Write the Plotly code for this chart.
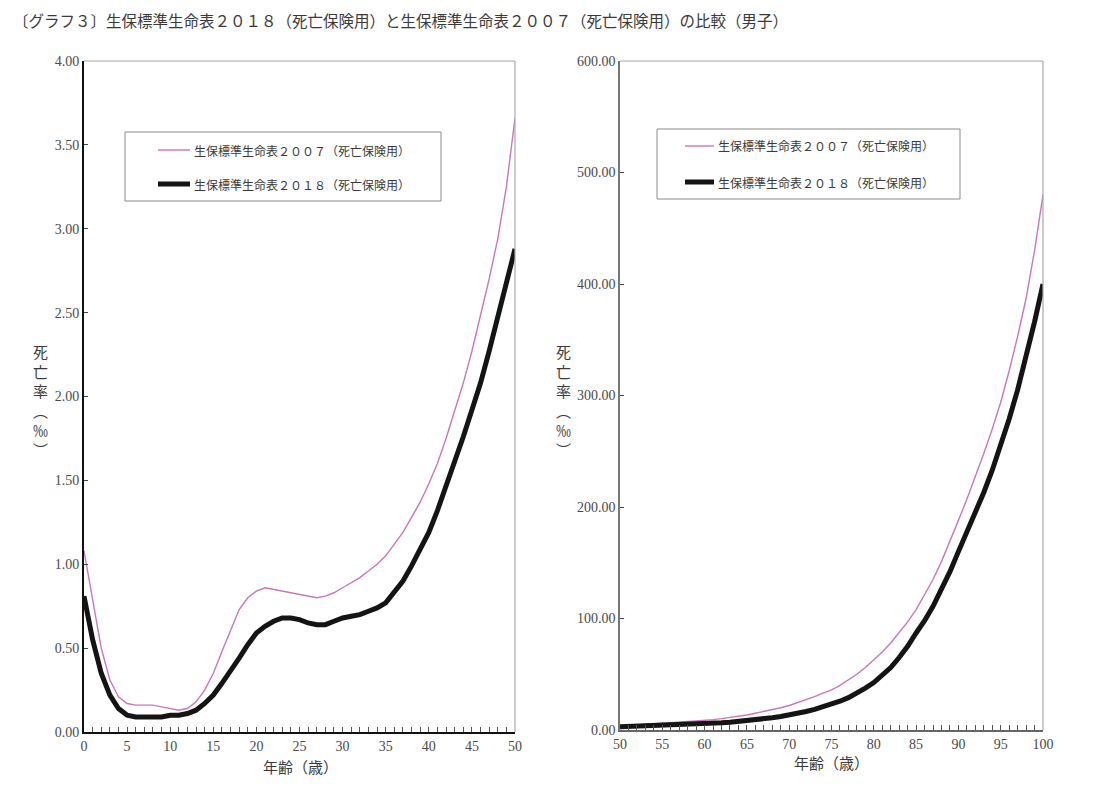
"""生保標準生命表 2018 と 2007 (死亡保険用・男子) の死亡率比較グラフ."""

import plotly.graph_objects as go

# ページの body 余白 (8px) を差し引いた描画サイズ
OFFSET = 8
W, H = 1100 - 2 * OFFSET, 794 - 2 * OFFSET

# 年齢 0-50 歳 (左グラフ)
ages_young = list(range(0, 51))
q2007_young = [
    1.08, 0.78, 0.50, 0.31, 0.21, 0.17, 0.16, 0.16, 0.16, 0.15,
    0.14, 0.13, 0.14, 0.18, 0.25, 0.35, 0.48, 0.61, 0.73, 0.80,
    0.84, 0.86, 0.85, 0.84, 0.83, 0.82, 0.81, 0.80, 0.81, 0.83,
    0.86, 0.89, 0.92, 0.96, 1.00, 1.05, 1.12, 1.19, 1.28, 1.37,
    1.48, 1.60, 1.75, 1.91, 2.08, 2.27, 2.48, 2.70, 2.94, 3.25,
    3.66,
]
q2018_young = [
    0.81, 0.55, 0.35, 0.22, 0.14, 0.10, 0.09, 0.09, 0.09, 0.09,
    0.10, 0.10, 0.11, 0.13, 0.17, 0.22, 0.29, 0.36, 0.44, 0.52,
    0.59, 0.63, 0.66, 0.68, 0.68, 0.67, 0.65, 0.64, 0.64, 0.66,
    0.68, 0.69, 0.70, 0.72, 0.74, 0.77, 0.83, 0.90, 0.99, 1.09,
    1.19, 1.32, 1.46, 1.60, 1.76, 1.92, 2.08, 2.27, 2.47, 2.66,
    2.88,
]

# 年齢 50-100 歳 (右グラフ)
ages_old = list(range(50, 101))
q2007_old = [
    3.66, 4.0, 4.5, 5.0, 5.5, 6.0, 6.5, 7.0, 7.5, 8.0,
    8.5, 9.3, 10.2, 11.2, 12.3, 13.5, 15.0, 16.5, 18.3, 20.0,
    22.0, 24.5, 27.0, 30.0, 33.0, 36.0, 40.0, 45.0, 50.0, 56.0,
    63.0, 70.0, 78.0, 87.0, 97.0, 108.0, 121.0, 135.0, 151.0, 169.0,
    188.0, 207.0, 227.0, 248.0, 270.0, 294.0, 322.0, 353.0, 387.0, 430.0,
    480.0,
]
q2018_old = [
    2.88, 3.1, 3.3, 3.5, 3.7, 4.0, 4.3, 4.6, 4.9, 5.2,
    5.6, 6.0, 6.5, 7.0, 7.6, 8.3, 9.1, 10.0, 11.0, 12.1,
    13.4, 14.9, 16.6, 18.5, 20.6, 23.0, 25.8, 29.0, 33.0, 37.5,
    42.5, 49.0, 56.0, 65.0, 75.0, 87.0, 98.0, 111.0, 126.0, 142.0,
    160.0, 177.0, 195.0, 213.0, 233.0, 255.0, 279.0, 305.0, 334.0, 366.0,
    400.0,
]

NAME_2007 = "生保標準生命表２００７（死亡保険用）"
NAME_2018 = "生保標準生命表２０１８（死亡保険用）"
TITLE = "〔グラフ３〕生保標準生命表２０１８（死亡保険用）と生保標準生命表２００７（死亡保険用）の比較（男子）"

PINK = "#c878b8"
BLACK = "#141414"
TEXT = "#3a3a3a"
JP_FONT = "Noto Sans CJK JP, sans-serif"
NUM_FONT = "Liberation Serif, serif"


def px(x):
    return (x - OFFSET) / W


def py(y):
    return 1 - (y - OFFSET) / H


fig = go.Figure()
fig.add_trace(go.Scatter(x=ages_young, y=q2007_young, mode="lines", name=NAME_2007,
                         line=dict(color=PINK, width=1.4), xaxis="x", yaxis="y", showlegend=False))
fig.add_trace(go.Scatter(x=ages_young, y=q2018_young, mode="lines", name=NAME_2018,
                         line=dict(color=BLACK, width=5), xaxis="x", yaxis="y", showlegend=False))
fig.add_trace(go.Scatter(x=ages_old, y=q2007_old, mode="lines", name=NAME_2007,
                         line=dict(color=PINK, width=1.4), xaxis="x2", yaxis="y2", showlegend=False))
fig.add_trace(go.Scatter(x=ages_old, y=q2018_old, mode="lines", name=NAME_2018,
                         line=dict(color=BLACK, width=5), xaxis="x2", yaxis="y2", showlegend=False))

x_common = dict(
    dtick=5, ticks="inside", ticklen=5, tickcolor="#555", tickwidth=1,
    minor=dict(dtick=1, ticks="inside", ticklen=5, tickcolor="#555", tickwidth=1),
    showgrid=False, zeroline=False, mirror=False, automargin=False,
    tickfont=dict(family=NUM_FONT, size=14, color="#4a4a4a"),
)
y_common = dict(
    ticks="inside", ticklen=4, tickcolor="#444", automargin=False,
    showgrid=False, zeroline=False, tickformat=".2f",
    tickfont=dict(family=NUM_FONT, size=14, color="#4a4a4a"),
)

fig.update_layout(
    width=W, height=H,
    margin=dict(l=0, r=0, t=0, b=0, pad=0),
    paper_bgcolor="white", plot_bgcolor="white",
    showlegend=False,
    xaxis=dict(**x_common, domain=[px(84), px(515)], range=[0, 50], anchor="y",
               showline=True, linecolor="#111", linewidth=2),
    yaxis=dict(**y_common, domain=[py(732), py(61)], range=[0, 4], dtick=0.5, anchor="x",
               showline=True, linecolor="#111", linewidth=2),
    xaxis2=dict(**x_common, domain=[px(620), px(1043)], range=[50, 100], anchor="y2",
                showline=True, linecolor="#666", linewidth=1.5),
    yaxis2=dict(**y_common, domain=[py(730), py(61)], range=[0, 600], dtick=100, anchor="x2",
                showline=True, linecolor="#777", linewidth=1.5),
)

shapes = []
# 上と右の枠線
for x0, y0, x1, y1 in [(84, 61, 515, 61), (515, 61, 515, 732), (620, 61, 1043, 61), (1043, 61, 1043, 730)]:
    shapes.append(dict(type="line", xref="paper", yref="paper", x0=px(x0), y0=py(y0), x1=px(x1), y1=py(y1),
                       line=dict(color="#a8a8a8", width=1.2)))

annotations = [
    dict(text=TITLE, x=px(12), y=1, xref="paper", yref="paper", xanchor="left", yanchor="top",
         showarrow=False, borderpad=0, font=dict(family=JP_FONT, size=15.5, color=TEXT)),
    dict(text="年齢（歳）", x=px(300), y=py(766), xref="paper", yref="paper", xanchor="center", yanchor="middle",
         showarrow=False, font=dict(family=JP_FONT, size=15, color=TEXT)),
    dict(text="年齢（歳）", x=px(831), y=py(762), xref="paper", yref="paper", xanchor="center", yanchor="middle",
         showarrow=False, font=dict(family=JP_FONT, size=15, color=TEXT)),
]

ytitle = "死<br>亡<br>率<br>︵<br>‰<br>︶"
for xc in (40, 563):
    annotations.append(dict(text=ytitle, x=px(xc), y=py(400), xref="paper", yref="paper",
                            xanchor="center", yanchor="middle", showarrow=False, align="center",
                            font=dict(family=JP_FONT, size=15, color=TEXT)))

# 凡例ボックス
legend_boxes = [
    dict(box=(125, 132, 441, 201), line_x=(158, 190), rows=(150, 184)),
    dict(box=(657, 129, 960, 199), line_x=(685, 714), rows=(146, 182)),
]
for lb in legend_boxes:
    bx0, by0, bx1, by1 = lb["box"]
    shapes.append(dict(type="rect", xref="paper", yref="paper", x0=px(bx0), y0=py(by0), x1=px(bx1), y1=py(by1),
                       line=dict(color="#8a8a8a", width=1), fillcolor="white"))
    lx0, lx1 = lb["line_x"]
    for ry, color, width, name in [(lb["rows"][0], PINK, 1.4, NAME_2007), (lb["rows"][1], BLACK, 5, NAME_2018)]:
        shapes.append(dict(type="line", xref="paper", yref="paper", x0=px(lx0), y0=py(ry), x1=px(lx1), y1=py(ry),
                           line=dict(color=color, width=width)))
        annotations.append(dict(text=name, x=px(lx1 + 2), y=py(ry), xref="paper", yref="paper",
                                xanchor="left", yanchor="middle", showarrow=False,
                                font=dict(family=JP_FONT, size=12, color=TEXT)))

fig.update_layout(shapes=shapes, annotations=annotations)

fig.write_html("out.html")
